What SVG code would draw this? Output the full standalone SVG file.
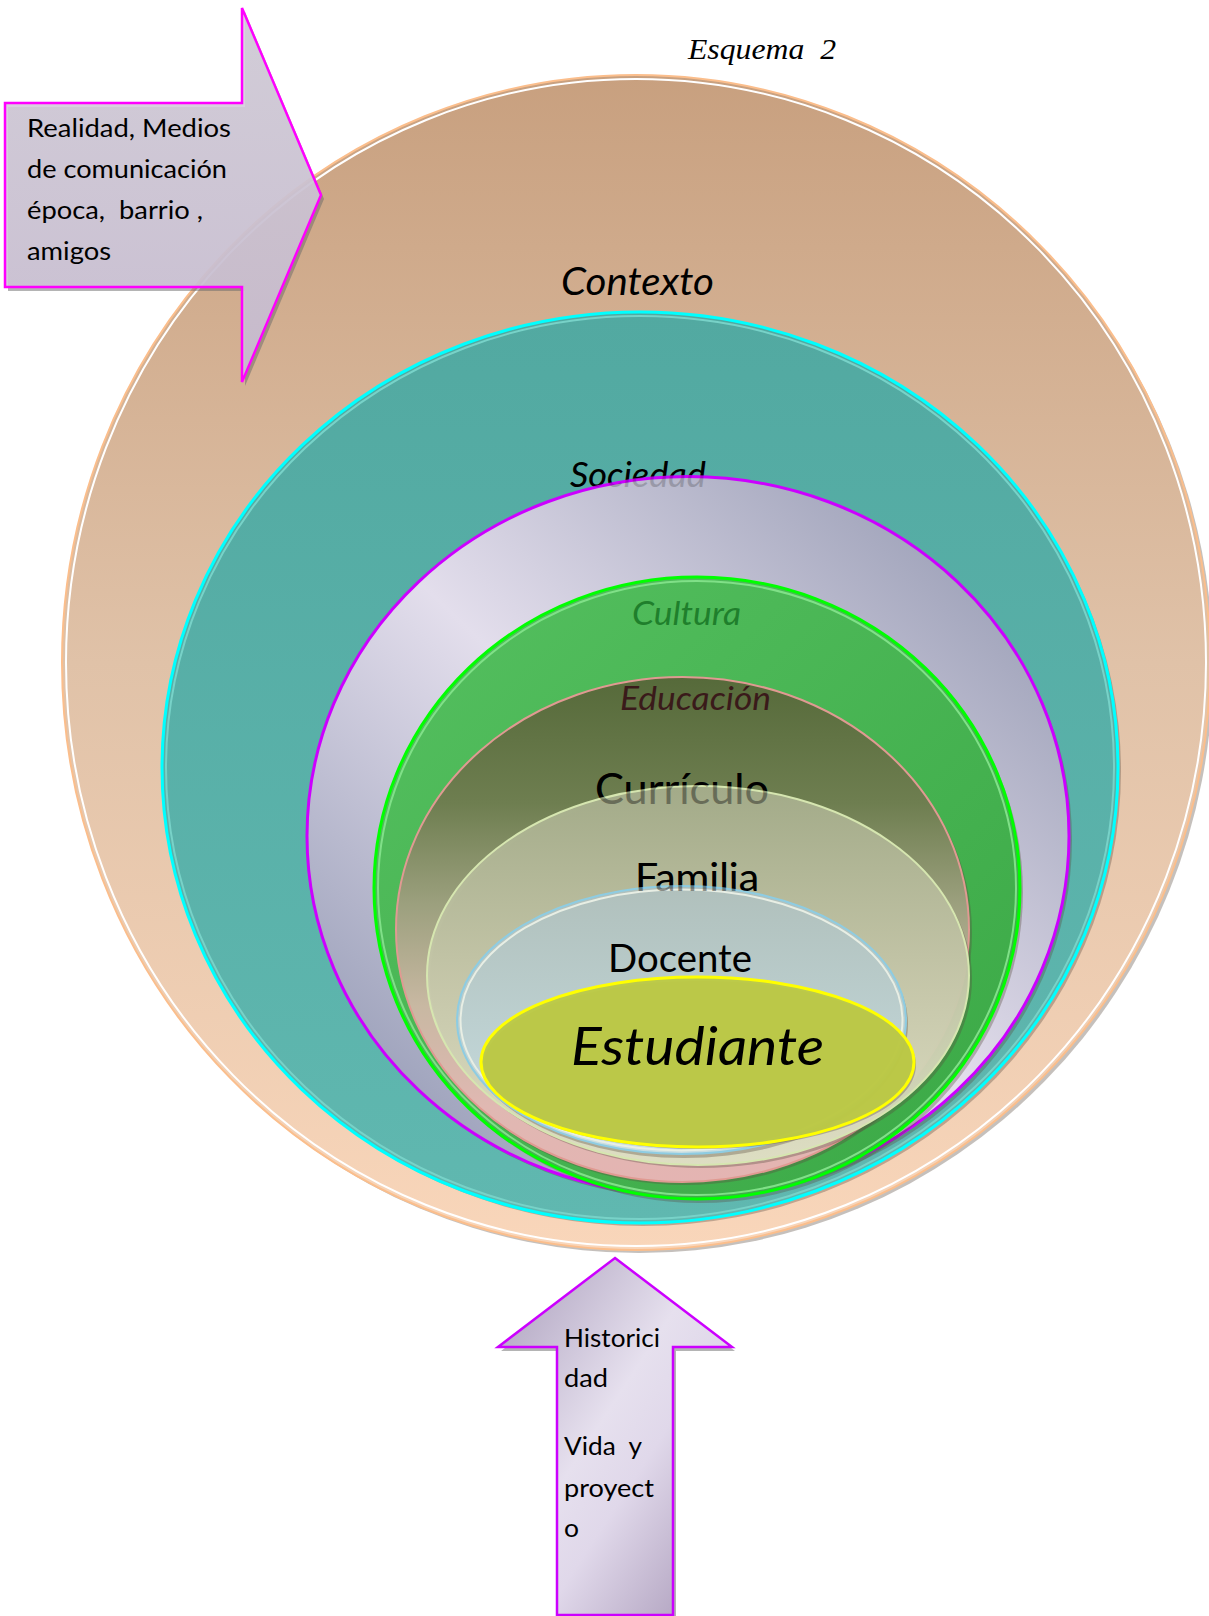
<svg xmlns="http://www.w3.org/2000/svg" width="1209" height="1616" viewBox="0 0 1209 1616">
<style>
.lbl{font-family:Lato,"Open Sans","Liberation Sans",sans-serif;fill:#000}
.it{font-style:italic}
.box{font-family:Lato,"Open Sans","Liberation Sans",sans-serif;font-size:25px;fill:#000}
.shadow{fill:#5a4a40;opacity:.35}
</style>
<defs>
<linearGradient id="gCtx" x1="0" y1="0" x2="0" y2="1"><stop offset="0" stop-color="#c8a07f"/><stop offset=".5" stop-color="#e0c2a8"/><stop offset="1" stop-color="#f9d6ba"/></linearGradient>
<linearGradient id="gTeal" x1="0" y1="0" x2="0" y2="1"><stop offset="0" stop-color="#52a9a1"/><stop offset="1" stop-color="#60b8b0"/></linearGradient>
<linearGradient id="gLav" x1="0" y1="1" x2="1" y2="0"><stop offset="0" stop-color="#868eab"/><stop offset=".5" stop-color="#e3deec"/><stop offset="1" stop-color="#8a90aa"/></linearGradient>
<linearGradient id="gGreen" x1="0" y1="0" x2="1" y2="1"><stop offset="0" stop-color="#55c060"/><stop offset="1" stop-color="#3aa845"/></linearGradient>
<linearGradient id="gEdu" x1="0" y1="0" x2="0" y2="1"><stop offset="0" stop-color="#566a3a"/><stop offset=".25" stop-color="#6e7e50"/><stop offset=".45" stop-color="#9ca07e"/><stop offset=".65" stop-color="#c8b8a2"/><stop offset=".85" stop-color="#e0b8b2"/><stop offset="1" stop-color="#e4b4b2"/></linearGradient>
<linearGradient id="gFam" x1="0" y1="0" x2="0" y2="1"><stop offset="0" stop-color="#a6ae8c"/><stop offset=".5" stop-color="#c6c8aa"/><stop offset="1" stop-color="#e0e2c6"/></linearGradient>
<linearGradient id="gDoc" x1="0" y1="0" x2="0" y2="1"><stop offset="0" stop-color="#b0c0bc"/><stop offset="1" stop-color="#c8dee2"/></linearGradient>
<linearGradient id="gArrL" x1="0" y1="0" x2="0" y2="1"><stop offset="0" stop-color="#d6d0dc"/><stop offset="1" stop-color="#ccc0d6"/></linearGradient>
<linearGradient id="gArrU" x1="0" y1="0" x2="1" y2="1"><stop offset="0" stop-color="#a89cba"/><stop offset=".45" stop-color="#e6e0ee"/><stop offset=".6" stop-color="#e0d8ea"/><stop offset="1" stop-color="#a494b4"/></linearGradient>
</defs>
<rect width="1209" height="1616" fill="#fff"/>
<text x="688" y="59" xml:space="preserve" font-family="'Liberation Serif',serif" font-style="italic" font-size="29" textLength="148" lengthAdjust="spacingAndGlyphs">Esquema  2</text>

<g id="contexto">
<ellipse class="shadow" cx="639" cy="666" rx="574" ry="587"/>
<ellipse cx="636" cy="662.5" rx="574" ry="587.5" fill="url(#gCtx)" stroke="#fbbe8c" stroke-width="2"/>
<ellipse cx="636" cy="662.5" rx="570" ry="583.5" fill="none" stroke="#fff" stroke-width="2"/>
<text class="lbl it" x="561" y="295" font-size="38" textLength="153" lengthAdjust="spacingAndGlyphs">Contexto</text>
</g>

<g id="sociedad">
<ellipse class="shadow" cx="643" cy="771" rx="478" ry="455"/>
<ellipse cx="640" cy="767.5" rx="478" ry="455.5" fill="url(#gTeal)" stroke="#00ffff" stroke-width="3"/>
<ellipse cx="640" cy="767.5" rx="474" ry="451.5" fill="none" stroke="#78d2c8" stroke-width="2"/>
<text class="lbl it" x="570" y="487" font-size="34" textLength="136" lengthAdjust="spacingAndGlyphs">Sociedad</text>
</g>

<g id="cultura-anillo">
<ellipse class="shadow" cx="691" cy="840" rx="381" ry="359"/>
<ellipse cx="688" cy="836" rx="381" ry="359.5" fill="url(#gLav)" stroke="#cc00ff" stroke-width="3"/>
<text x="570" y="487" font-family="Lato,'Open Sans',sans-serif" font-style="italic" font-size="34" textLength="136" lengthAdjust="spacingAndGlyphs" fill="#000" opacity=".18">Sociedad</text>
</g>

<g id="cultura">
<ellipse class="shadow" cx="700" cy="892" rx="323" ry="311"/>
<ellipse cx="697" cy="888" rx="323" ry="311" fill="url(#gGreen)" stroke="#00ff00" stroke-width="3"/>
<ellipse cx="697" cy="888" rx="319" ry="307" fill="none" stroke="#80e088" stroke-width="2"/>
<text class="it" x="632" y="625" font-family="Lato,'Open Sans',sans-serif" font-size="33" textLength="109" lengthAdjust="spacingAndGlyphs" fill="#1f7f2c">Cultura</text>
</g>

<g id="educacion">
<ellipse class="shadow" cx="685" cy="933" rx="287" ry="252"/>
<ellipse cx="682.5" cy="929.5" rx="286.5" ry="252.5" fill="url(#gEdu)" stroke="#e09a92" stroke-width="2"/>
<text class="it" x="620" y="710" font-family="Lato,'Open Sans',sans-serif" font-size="33" textLength="151" lengthAdjust="spacingAndGlyphs" fill="#3a1a1a">Educación</text>
<text class="lbl" x="595" y="804" font-size="42" textLength="174" lengthAdjust="spacingAndGlyphs">Currículo</text>
</g>

<g id="familia">
<ellipse class="shadow" cx="701" cy="979" rx="271" ry="189"/>
<ellipse cx="698" cy="975.5" rx="271" ry="189.5" fill="url(#gFam)" fill-opacity=".95" stroke="#d6e6b0" stroke-width="2"/>
<text x="595" y="804" font-family="Lato,'Open Sans',sans-serif" font-size="42" textLength="174" lengthAdjust="spacingAndGlyphs" fill="#000" opacity=".35">Currículo</text>
<text class="lbl" x="635" y="891" font-size="38" textLength="124" lengthAdjust="spacingAndGlyphs">Familia</text>
</g>

<g id="docente">
<ellipse class="shadow" cx="684" cy="1024" rx="224" ry="134"/>
<ellipse cx="681.5" cy="1020" rx="224.5" ry="134" fill="url(#gDoc)" stroke="#8ecce2" stroke-width="2"/>
<ellipse cx="681.5" cy="1020" rx="221" ry="130.5" fill="none" stroke="#e8eee4" stroke-width="2"/>
<text x="635" y="891" font-family="Lato,'Open Sans',sans-serif" font-size="38" textLength="124" lengthAdjust="spacingAndGlyphs" fill="#000" opacity=".4">Familia</text>
<text class="lbl" x="608" y="972" font-size="38" textLength="144" lengthAdjust="spacingAndGlyphs">Docente</text>
</g>

<g id="estudiante">
<ellipse class="shadow" cx="700" cy="1065" rx="216" ry="84"/>
<ellipse cx="697.5" cy="1062" rx="216.5" ry="85" fill="#bcc945" fill-opacity=".97" stroke="#ffff00" stroke-width="3"/>
<text class="lbl it" x="571" y="1065" font-size="52" textLength="253" lengthAdjust="spacingAndGlyphs">Estudiante</text>
</g>

<g id="flecha-realidad">
<polygon points="8,107 245,107 245,12 324,199 245,386 245,291 8,291" fill="#6a6a6a" opacity=".5"/>
<polygon points="5,103 242,103 242,8 321,195 242,382 242,287 5,287" fill="url(#gArrL)" fill-opacity=".88" stroke="#ff00ff" stroke-width="2.5"/>
<text class="box" x="27" y="137" textLength="204" lengthAdjust="spacingAndGlyphs">Realidad, Medios</text>
<text class="box" x="27" y="178" textLength="200" lengthAdjust="spacingAndGlyphs">de comunicación</text>
<text class="box" x="27" y="219" xml:space="preserve" textLength="176" lengthAdjust="spacingAndGlyphs">época,  barrio ,</text>
<text class="box" x="27" y="260" textLength="84" lengthAdjust="spacingAndGlyphs">amigos</text>
</g>

<g id="flecha-historicidad">
<polygon points="618,1262 735,1351 676,1351 676,1619 560,1619 560,1351 501,1351" fill="#6a6a6a" opacity=".5"/>
<polygon points="615,1258 732,1347 673,1347 673,1615 557,1615 557,1347 498,1347" fill="url(#gArrU)" stroke="#cc00ff" stroke-width="2.5"/>
<text class="box" x="564" y="1347" textLength="96" lengthAdjust="spacingAndGlyphs">Historici</text>
<text class="box" x="564" y="1387" textLength="44" lengthAdjust="spacingAndGlyphs">dad</text>
<text class="box" x="564" y="1455" xml:space="preserve" textLength="78" lengthAdjust="spacingAndGlyphs">Vida  y</text>
<text class="box" x="564" y="1497" textLength="90" lengthAdjust="spacingAndGlyphs">proyect</text>
<text class="box" x="564" y="1537" textLength="15" lengthAdjust="spacingAndGlyphs">o</text>
</g>

<g id="connectors"></g>
</svg>
